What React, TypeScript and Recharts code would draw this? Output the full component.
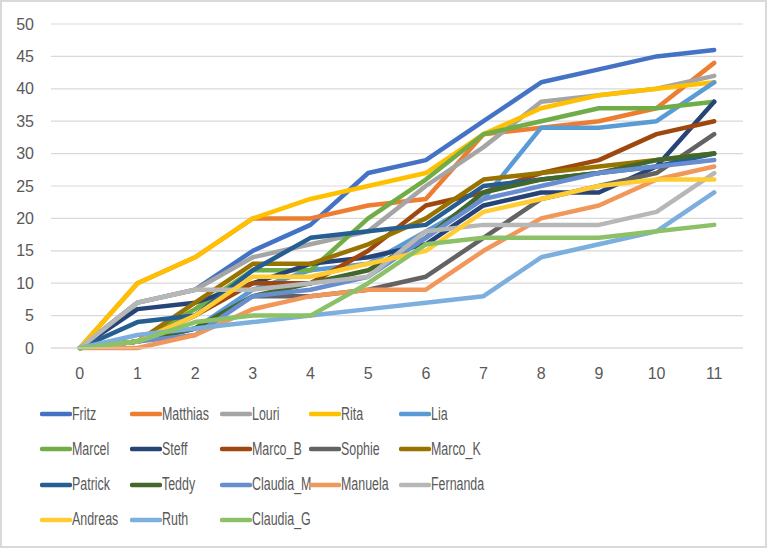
import React from "react";
import { LineChart, Line, XAxis, YAxis, CartesianGrid } from "recharts";

const categories = [0, 1, 2, 3, 4, 5, 6, 7, 8, 9, 10, 11];
const yTicks = [0, 5, 10, 15, 20, 25, 30, 35, 40, 45, 50];

const fritz = [0, 7, 9, 15, 19, 27, 29, 35, 41, 43, 45, 46];
const matthias = [0, 10, 14, 20, 20, 22, 23, 33, 34, 35, 37, 44];
const louri = [0, 7, 9, 14, 16, 18, 25, 31, 38, 39, 40, 42];
const rita = [0, 10, 14, 20, 23, 25, 27, 33, 37, 39, 40, 41];
const lia = [0, 1, 3, 9, 12, 13, 18, 23, 34, 34, 35, 41];
const marcel = [0, 1, 6, 12, 12, 20, 26, 33, 35, 37, 37, 38];
const steff = [0, 6, 7, 10, 13, 14, 16, 22, 24, 24, 28, 38];
const marcoB = [0, 1, 5, 10, 10, 15, 22, 24, 27, 29, 33, 35];
const sophie = [0, 1, 3, 8, 8, 9, 11, 17, 23, 25, 27, 33];
const marcoK = [0, 1, 7, 13, 13, 16, 20, 26, 27, 28, 29, 30];
const patrick = [0, 4, 5, 12, 17, 18, 19, 25, 26, 27, 28, 30];
const teddy = [0, 1, 3, 8, 10, 12, 17, 24, 26, 27, 29, 30];
const claudiaM = [0, 1, 2, 8, 9, 11, 17, 23, 25, 27, 28, 29];
const manuela = [0, 0, 2, 6, 8, 9, 9, 15, 20, 22, 26, 28];
const fernanda = [0, 7, 9, 9, 10, 11, 18, 19, 19, 19, 21, 27];
const andreas = [0, 1, 5, 11, 11, 13, 15, 21, 23, 25, 26, 26];
const ruth = [0, 2, 3, 4, 5, 6, 7, 8, 14, 16, 18, 24];
const claudiaG = [0, 1, 4, 5, 5, 10, 16, 17, 17, 17, 18, 19];

const seriesNames = [
  "Fritz", "Matthias", "Louri", "Rita", "Lia",
  "Marcel", "Steff", "Marco_B", "Sophie", "Marco_K",
  "Patrick", "Teddy", "Claudia_M", "Manuela", "Fernanda",
  "Andreas", "Ruth", "Claudia_G",
];
const seriesValues = [
  fritz, matthias, louri, rita, lia,
  marcel, steff, marcoB, sophie, marcoK,
  patrick, teddy, claudiaM, manuela, fernanda,
  andreas, ruth, claudiaG,
];
const seriesColors = [
  "#4472C4", "#ED7D31", "#A5A5A5", "#FFC000", "#5B9BD5",
  "#70AD47", "#264478", "#9E480E", "#636363", "#997300",
  "#255E91", "#43682B", "#698ED0", "#F1975A", "#B7B7B7",
  "#FFCD33", "#7CAFDD", "#8CC168",
];

const data = categories.map((c, i) => {
  const row: Record<string, number> = { x: c };
  seriesNames.forEach((n, s) => {
    row[n] = seriesValues[s][i];
  });
  return row;
});

const FONT = '"Liberation Sans", Arial, sans-serif';
const TEXT = "#595959";

function LegendBlock() {
  return (
    <div style={{ position: "absolute", left: 0, top: 0, width: 767, height: 548, pointerEvents: "none" }}>
      {seriesNames.map((n, i) => {
        const col = i % 5;
        const row = Math.floor(i / 5);
        const left = 40 + col * 89.8;
        const cy = 414 + row * 35.3;
        return (
          <div
            key={n}
            style={{
              position: "absolute",
              left,
              top: cy - 11,
              height: 22,
              display: "flex",
              alignItems: "center",
              fontFamily: FONT,
              fontSize: 17.5,
              color: TEXT,
              whiteSpace: "nowrap",
            }}
          >
            <svg width={32} height={8} style={{ display: "block" }}>
              <line x1={2} y1={4} x2={30} y2={4} stroke={seriesColors[i]} strokeWidth={4.5} strokeLinecap="round" />
            </svg>
            <span style={{ display: "inline-block", transform: "scaleX(0.71)", transformOrigin: "left center" }}>{n}</span>
          </div>
        );
      })}
    </div>
  );
}

export default function App() {
  return (
    <div style={{ position: "absolute", left: 0, top: 0, width: 767, height: 548, background: "#fff" }}>
      <LineChart
        width={767}
        height={548}
        data={data}
        margin={{ top: 24, right: 24, left: 0, bottom: 170 }}
      >
        <CartesianGrid vertical={false} stroke="#D9D9D9" strokeWidth={1.2} />
        <XAxis
          dataKey="x"
          type="category"
          height={30}
          axisLine={{ stroke: "#D9D9D9", strokeWidth: 1.2 }}
          tickLine={false}
          tickSize={0}
          tickMargin={20}
          padding={{ left: 28.8, right: 28.8 }}
          tick={{ fill: TEXT, fontSize: 16, fontFamily: FONT }}
          interval={0}
        />
        <YAxis
          width={51}
          domain={[0, 50]}
          ticks={yTicks}
          interval={0}
          axisLine={false}
          tickLine={false}
          tickSize={0}
          tickMargin={17}
          tick={{ fill: TEXT, fontSize: 16, fontFamily: FONT }}
        />
        {seriesNames.map((n, i) => (
          <Line
            key={n}
            type="linear"
            dataKey={n}
            stroke={seriesColors[i]}
            strokeWidth={4.5}
            strokeLinejoin="round"
            strokeLinecap="round"
            dot={false}
            activeDot={false}
            isAnimationActive={false}
          />
        ))}
      </LineChart>
      <LegendBlock />
      <div
        style={{
          position: "absolute",
          left: 0,
          top: 0,
          width: 767,
          height: 548,
          boxSizing: "border-box",
          border: "2px solid #D9D9D9",
          pointerEvents: "none",
        }}
      />
    </div>
  );
}
